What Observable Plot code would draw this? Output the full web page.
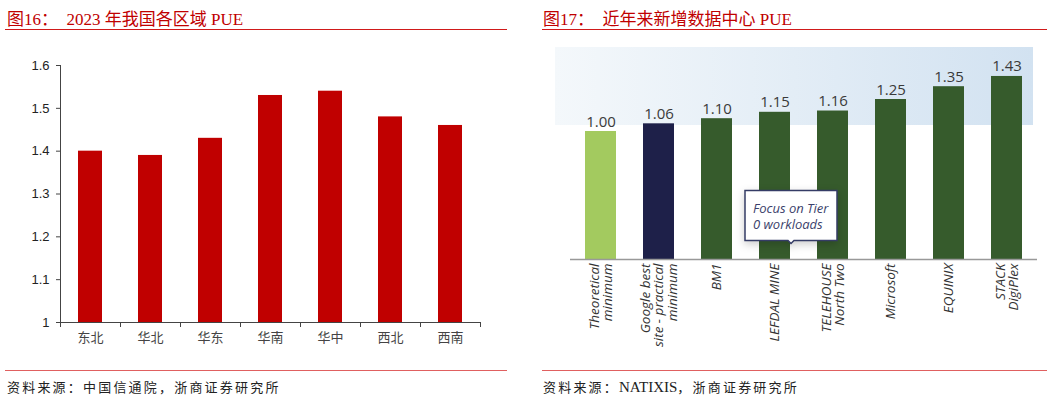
<!DOCTYPE html>
<html><head><meta charset="utf-8">
<script src="https://cdn.jsdelivr.net/npm/d3@7"></script>
<script src="https://cdn.jsdelivr.net/npm/@observablehq/plot@0.6"></script>
<style>
body{margin:0;background:#fff;width:1057px;height:401px;position:relative;overflow:hidden;font-family:"Liberation Serif","Noto Sans CJK SC",serif;}
.title{position:absolute;top:5px;font-size:17px;color:#c00000;white-space:pre;}
.rule{position:absolute;height:0;}
.top{top:29px;border-top:1.5px solid #d01a1a;}
.bot{top:370px;border-top:1px solid #e06060;}
.foot{position:absolute;top:377px;font-size:13px;letter-spacing:2.2px;color:#222;white-space:pre;}
.foot .lat{font-size:15px;letter-spacing:0;}
#left{position:absolute;left:0;top:40px;}
#right{position:absolute;left:536px;top:40px;}
#bg{position:absolute;left:555px;top:47px;width:478px;height:78px;background:linear-gradient(to right,#f4f8fb,#d2e2f1);}
g[aria-label="tip"] text{fill:#3b3f6b;}
</style></head>
<body>
<div class="title" style="left:7px">图16：  2023 年我国各区域 PUE</div>
<div class="rule top" style="left:5px;width:502px"></div>
<div class="title" style="left:543px">图17：  近年来新增数据中心 PUE</div>
<div class="rule top" style="left:542px;width:505px"></div>
<div id="bg"></div>
<div id="left"></div>
<div id="right"></div>
<div class="rule bot" style="left:5px;width:502px"></div>
<div class="rule bot" style="left:542px;width:505px"></div>
<div class="foot" style="left:7px">资料来源：中国信通院，浙商证券研究所</div>
<div class="foot" style="left:543px">资料来源：<span class="lat">NATIXIS</span>，浙商证券研究所</div>
<script>
// ---- Left chart data ----
const regions = ["东北","华北","华东","华南","华中","西北","西南"];
const regionPUE = [1.40,1.39,1.43,1.53,1.54,1.48,1.46];
const leftTicks = [1,1.1,1.2,1.3,1.4,1.5,1.6];

// ---- Right chart data ----
const sites = ["Theoretical\nminimum","Google best\nsite - practical\nminimum","BM1","LEFDAL MINE","TELEHOUSE\nNorth Two","Microsoft","EQUINIX","STACK\nDigiPlex"];
const sitePUE = [1.00,1.06,1.10,1.15,1.16,1.25,1.35,1.43];
const siteKind = ["theoretical","practical","actual","actual","actual","actual","actual","actual"];
const kinds = ["theoretical","practical","actual"];
const kindColors = ["#a3ca5f","#1e2049","#365b2c"];
const calloutText = "Focus on Tier\n0 workloads";
const calloutSite = sites[3];
const calloutY = 0.125;

const leftData = regions.map((r,i)=>({region:r, pue:regionPUE[i]}));
const left = Plot.plot({
  width:520, height:320, marginLeft:60, marginRight:40, marginTop:25, marginBottom:38,
  style:{fontFamily:"'Liberation Sans', Arial, 'Noto Sans CJK SC'", fontSize:"13px", color:"#333", background:"transparent"},
  x:{domain:regions, paddingInner:0.6, paddingOuter:0.3, label:null},
  y:{domain:[1,1.6], label:null},
  marks:[
    Plot.barY(leftData,{x:"region", y1:1, y2:"pue", fill:"#c00000"}),
    Plot.ruleX([regions[0]],{dx:-30, stroke:"#444"}),
    Plot.ruleY([1],{stroke:"#444"}),
    Plot.ruleX(regions,{x:d=>d, dx:-30, y1:1, y2:1, insetBottom:-5, stroke:"#444"}),
    Plot.ruleX([regions[regions.length-1]],{dx:30, y1:1, y2:1, insetBottom:-5, stroke:"#444"}),
    Plot.axisY({ticks:leftTicks, tickFormat:d=>d===1?"1":d.toFixed(1), tickSize:4, tickPadding:7, label:null, fontSize:13, stroke:"#444", fill:"#222"}),
    Plot.axisX({tickSize:0, tickPadding:10, label:null, fontSize:13, fill:"#444", fontFamily:"'Noto Sans CJK SC'"})
  ]
});
document.getElementById("left").appendChild(left);

const rightData = sites.map((s,i)=>({site:s, pue:sitePUE[i], kind:siteKind[i]}));
const right = Plot.plot({
  width:521, height:320, marginLeft:34, marginRight:20, marginTop:27, marginBottom:101,
  style:{fontFamily:"'Open Sans', sans-serif", fontSize:"14px", color:"#333", background:"transparent"},
  x:{domain:sites, paddingInner:0.46, paddingOuter:0.2, label:null},
  y:{domain:[0,1.5], label:null, axis:null},
  color:{domain:kinds, range:kindColors},
  marks:[
    Plot.barY(rightData,{x:"site", y:"pue", fill:"kind"}),
    Plot.ruleY([0],{stroke:"#999", strokeWidth:1.5}),
    Plot.text(rightData,{x:"site", y:"pue", text:d=>d.pue.toFixed(2), dy:-5, lineAnchor:"bottom", fontSize:15, fill:"#3a3a3a"}),
    Plot.axisX({tickSize:0, tickPadding:4, tickRotate:-90, label:null, fontSize:13.5, fontStyle:"italic", fill:"#333"}),
    Plot.tip([{site:calloutSite, y:calloutY}],{x:"site", y:"y", title:()=>calloutText, anchor:"bottom", dx:16, pointerSize:6, textPadding:8, lineHeight:1.2, fill:"white", stroke:"#353c66", strokeWidth:1.5, fontSize:13, fontStyle:"italic"})
  ]
});
document.getElementById("right").appendChild(right);
</script>
</body></html>
